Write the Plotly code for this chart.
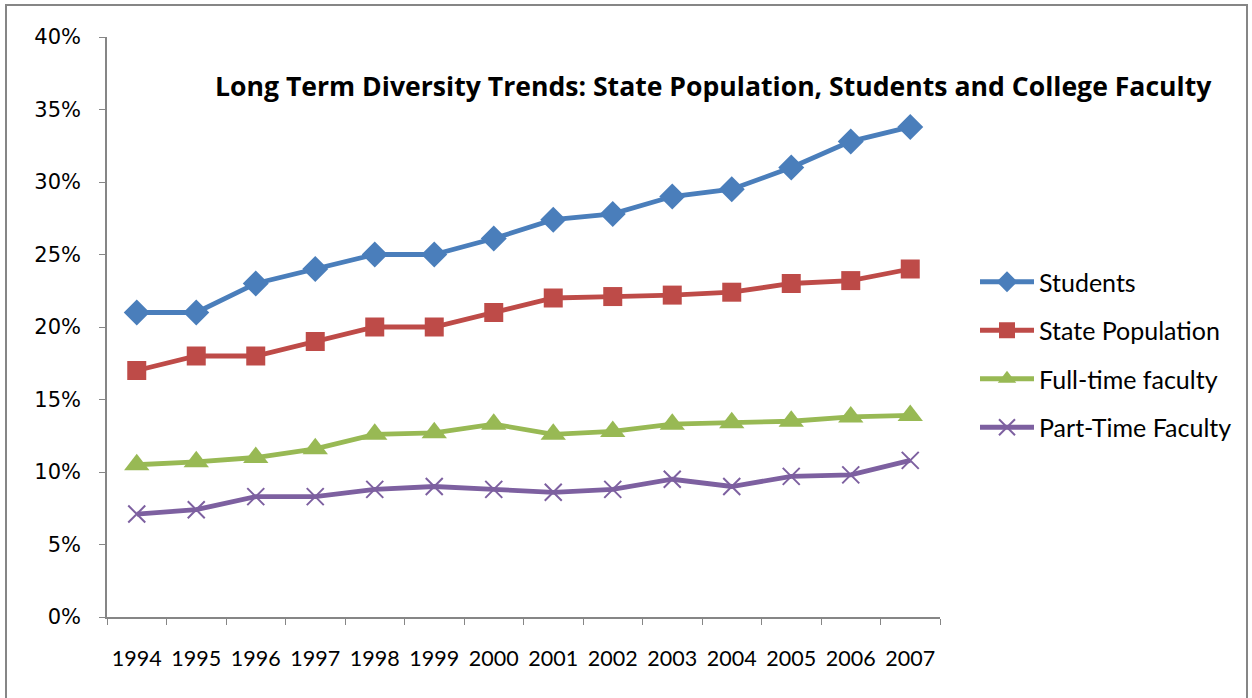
import plotly.graph_objects as go

years = ["1994", "1995", "1996", "1997", "1998", "1999", "2000", "2001", "2002", "2003", "2004", "2005", "2006", "2007"]
students = [21.0, 21.0, 23.0, 24.0, 25.0, 25.0, 26.1, 27.4, 27.8, 29.0, 29.5, 31.0, 32.8, 33.8]
state_pop = [17.0, 18.0, 18.0, 19.0, 20.0, 20.0, 21.0, 22.0, 22.1, 22.2, 22.4, 23.0, 23.2, 24.0]
full_time = [10.5, 10.7, 11.0, 11.6, 12.6, 12.7, 13.3, 12.6, 12.8, 13.3, 13.4, 13.5, 13.8, 13.9]
part_time = [7.1, 7.4, 8.3, 8.3, 8.8, 9.0, 8.8, 8.6, 8.8, 9.5, 9.0, 9.7, 9.8, 10.8]

series = [
    ("Students", students, "#4A7EBB", "diamond", 20),
    ("State Population", state_pop, "#BE4B48", "square", 19),
    ("Full-time faculty", full_time, "#98B954", "triangle-up", 22),
    ("Part-Time Faculty", part_time, "#7D60A0", "x-thin", 17),
]

fig = go.Figure()
for i, (name, vals, color, sym, size) in enumerate(series):
    marker = dict(symbol=sym, size=size, color=color)
    if sym == "x-thin":
        marker["line"] = dict(color=color, width=2)
    fig.add_trace(go.Scatter(
        x=years, y=[v / 100 for v in vals], name=name, mode="lines+markers",
        line=dict(color=color, width=4.8), marker=marker,
        legendgroup=f"g{i}",
    ))

L, R, T, B = 107, 940, 37, 617
W, H = 1252, 698

def px_x(p):
    return (p - L) / (R - L)

def px_y(p):
    return (B - p) / (B - T)

fig.update_layout(
    width=W, height=H,
    margin=dict(l=L, r=W - R, t=T, b=H - B, autoexpand=False),
    paper_bgcolor="white", plot_bgcolor="white",
    showlegend=True,
    legend=dict(
        x=px_x(975), y=px_y(259), xanchor="left", yanchor="top",
        font=dict(family="Lato, Carlito, sans-serif", size=25, color="#000000"),
        traceorder="grouped", tracegroupgap=13, itemwidth=54,
        bgcolor="rgba(0,0,0,0)",
    ),
    annotations=[dict(
        text="<b>Long Term Diversity Trends: State Population, Students and College Faculty</b>",
        x=px_x(713), y=px_y(86), xref="paper", yref="paper",
        xanchor="center", yanchor="middle", showarrow=False,
        font=dict(family="Open Sans, Lato, sans-serif", size=26.6, color="#000000"),
    )],
    shapes=[dict(
        type="rect", xref="paper", yref="paper",
        x0=px_x(6), x1=px_x(1247), y0=px_y(5), y1=px_y(710),
        line=dict(color="#868686", width=2), layer="below",
    )],
)

fig.update_xaxes(
    type="category", range=[-0.5, len(years) - 0.5], showgrid=False,
    showline=True, linecolor="#868686", linewidth=1.5,
    ticks="outside", ticklen=6, tickcolor="#868686", tickson="boundaries",
    tickfont=dict(family="Lato, sans-serif", size=21.5, color="#000000"),
    ticklabelstandoff=21, tickangle=0, automargin=False,
)
fig.update_yaxes(
    range=[0, 0.4], dtick=0.05, tickformat=".0%", showgrid=False,
    showline=True, linecolor="#868686", linewidth=1.5,
    ticks="outside", ticklen=6, tickcolor="#868686",
    tickfont=dict(family="DejaVu Sans, Verdana, sans-serif", size=21, color="#000000"),
    ticklabelstandoff=14, zeroline=False, automargin=False,
)

fig.write_html("out.html")
